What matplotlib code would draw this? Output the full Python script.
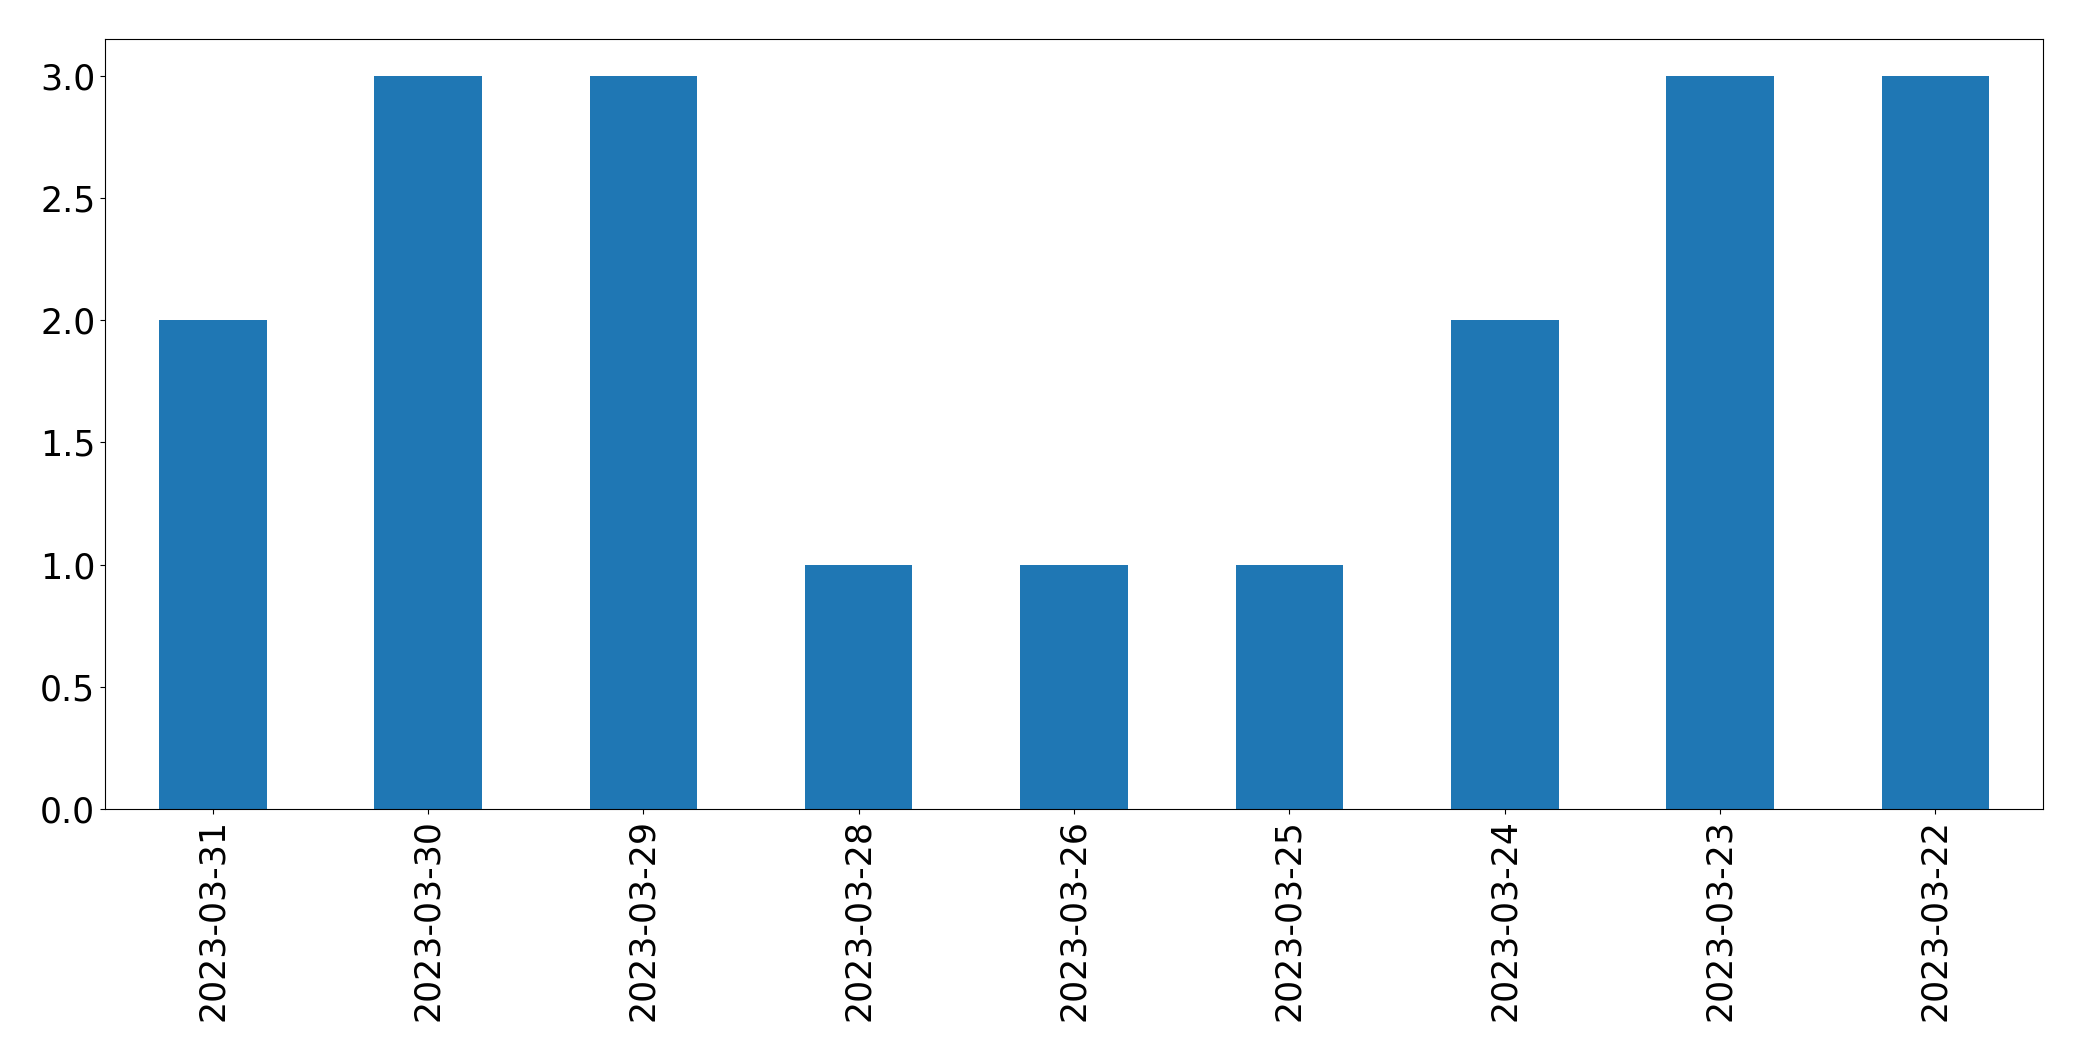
import matplotlib
matplotlib.use("Agg")
import matplotlib.pyplot as plt
import pandas as pd

dates = ["2023-03-31", "2023-03-30", "2023-03-29", "2023-03-28", "2023-03-26",
         "2023-03-25", "2023-03-24", "2023-03-23", "2023-03-22"]
counts = [2, 3, 3, 1, 1, 1, 2, 3, 3]

W, H = 2082, 1061
fig = plt.figure(figsize=(W / 100, H / 100), dpi=100)
ax = fig.add_axes([105 / W, 1 - 809 / H, (2043 - 105) / W, (809 - 39) / H])

series = pd.Series(counts, index=dates)
series.plot(kind="bar", ax=ax, color="#1f77b4")
ax.tick_params(labelsize=25)
ax.set_ylim(0, 3.15)

fig.savefig("out.png", dpi=100, facecolor="white")
